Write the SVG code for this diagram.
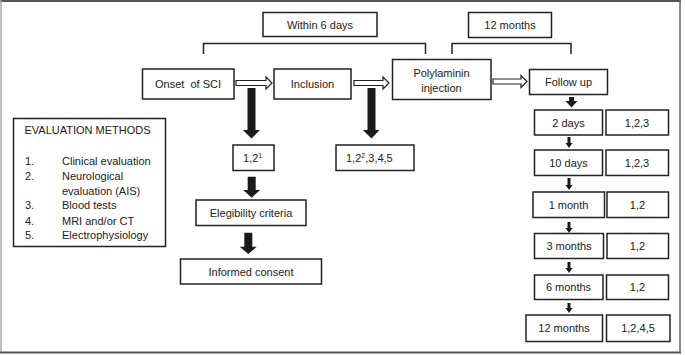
<svg xmlns="http://www.w3.org/2000/svg" width="685" height="355" viewBox="0 0 685 355">
<style>
.b{fill:#fff;stroke:#222;stroke-width:1.5}
.t{font-family:"Liberation Sans",Arial,sans-serif;font-size:11px;fill:#222;text-anchor:middle;dominant-baseline:central}
.l{font-family:"Liberation Sans",Arial,sans-serif;font-size:11px;fill:#222}
.br{fill:none;stroke:#222;stroke-width:1.5}
.h{fill:#fff;stroke:#222;stroke-width:1.2}
.a{fill:#1a1a1a}
</style>
<rect width="685" height="355" fill="#fff"/>
<g id="frame">
<line x1="0" y1="1" x2="681" y2="1" stroke="#555" stroke-width="2"/>
<line x1="1" y1="0" x2="1" y2="353" stroke="#aaa" stroke-width="1.5"/>
<line x1="680" y1="0" x2="680" y2="353" stroke="#666" stroke-width="1.5"/>
<line x1="0" y1="352.5" x2="681" y2="352.5" stroke="#555" stroke-width="2"/>
</g>
<g id="connectors">
<path class="br" d="M203.5,54 V43.5 H425.5 V54"/>
<path class="br" d="M452,54 V43.5 H571 V54"/>
<polygon class="h" points="236,80.5 266,80.5 266,77 272,83 266,89 266,85.5 236,85.5"/>
<polygon class="h" points="354,80.5 383,80.5 383,77 389,83 383,89 383,85.5 354,85.5"/>
<polygon class="h" points="493,79 521,79 521,75.5 527,81.5 521,87.5 521,84 493,84"/>
<polygon class="a" points="247.5,88 255.5,88 255.5,130 260,130 251.5,138.5 243,130 247.5,130"/>
<polygon class="a" points="367.5,88 375.5,88 375.5,130 379.5,130 371.5,138.5 363,130 367.5,130"/>
<polygon class="a" points="247.7,176.7 255.7,176.7 255.7,190 260.2,190 251.7,197.7 243.2,190 247.7,190"/>
<polygon class="a" points="244.3,232.7 252.3,232.7 252.3,246.7 256.8,246.7 248.3,254 239.8,246.7 244.3,246.7"/>
<polygon class="a" points="569,97 574,97 574,101 577.5,101 571.5,107.5 565.5,101 569,101"/>
<polygon class="a" points="567.5,137 570.5,137 570.5,143 572.5,143 569,148 565.5,143 567.5,143"/>
<polygon class="a" points="567.5,178 570.5,178 570.5,185 572.5,185 569,190 565.5,185 567.5,185"/>
<polygon class="a" points="567.5,222 570.5,222 570.5,228 572.5,228 569,233 565.5,228 567.5,228"/>
<polygon class="a" points="567.5,262 570.5,262 570.5,268 572.5,268 569,273 565.5,268 567.5,268"/>
<polygon class="a" points="567.5,303 570.5,303 570.5,308 572.5,308 569,313 565.5,308 567.5,308"/>
</g>
<g id="within6days"><rect class="b" x="263" y="12.5" width="114" height="24"/><text class="t" x="320" y="25">Within 6 days</text></g>
<g id="months12top"><rect class="b" x="468.5" y="12.5" width="83" height="25"/><text class="t" x="510" y="25">12 months</text></g>
<g id="onset"><rect class="b" x="142.5" y="69" width="91.5" height="30"/><text class="t" x="188" y="84" xml:space="preserve">Onset  of SCI</text></g>
<g id="inclusion"><rect class="b" x="274" y="69" width="77" height="30"/><text class="t" x="312.5" y="84">Inclusion</text></g>
<g id="polylaminin"><rect class="b" x="392.5" y="59.5" width="98.5" height="40"/><text class="t" x="441.5" y="72.5">Polylaminin</text><text class="t" x="441.5" y="88">injection</text></g>
<g id="followup"><rect class="b" x="529.5" y="69.5" width="78" height="25"/><text class="t" x="568.5" y="82">Follow up</text></g>
<g id="evalmethods">
<rect class="b" x="13.5" y="118.5" width="152" height="128"/>
<text class="l" x="24.5" y="134">EVALUATION METHODS</text>
<text class="l" x="25" y="165">1.</text><text class="l" x="62" y="165">Clinical evaluation</text>
<text class="l" x="25" y="180">2.</text><text class="l" x="62" y="180">Neurological</text>
<text class="l" x="62" y="195">evaluation (AIS)</text>
<text class="l" x="25" y="209">3.</text><text class="l" x="62" y="209">Blood tests</text>
<text class="l" x="25" y="224.5">4.</text><text class="l" x="62" y="224.5">MRI and/or CT</text>
<text class="l" x="25" y="239">5.</text><text class="l" x="62" y="239">Electrophysiology</text>
</g>
<g id="eval1"><rect class="b" x="233" y="145" width="41" height="25.5"/><text class="l" x="243" y="162">1,2<tspan font-size="7" dy="-4">1</tspan></text></g>
<g id="eval2"><rect class="b" x="336" y="145" width="78" height="25.5"/><text class="l" x="346" y="162">1,2<tspan font-size="7" dy="-4">2</tspan><tspan dy="4">,3,4,5</tspan></text></g>
<g id="eligibility"><rect class="b" x="196" y="200" width="110" height="25.5"/><text class="t" x="251" y="212.5">Elegibility criteria</text></g>
<g id="consent"><rect class="b" x="180.5" y="259" width="141" height="25"/><text class="t" x="251" y="271.5">Informed consent</text></g>
<g id="d2"><rect class="b" x="534.5" y="110" width="68" height="25"/><text class="t" x="568.5" y="122.5">2 days</text></g>
<g id="d2m"><rect class="b" x="606" y="110" width="62.5" height="25"/><text class="t" x="637" y="122.5">1,2,3</text></g>
<g id="d10"><rect class="b" x="534.5" y="150" width="68" height="25.5"/><text class="t" x="568.5" y="162.5">10 days</text></g>
<g id="d10m"><rect class="b" x="606" y="150" width="62.5" height="25.5"/><text class="t" x="637" y="162.5">1,2,3</text></g>
<g id="m1"><rect class="b" x="533" y="192" width="71.5" height="25.5"/><text class="t" x="568.5" y="204.5">1 month</text></g>
<g id="m1m"><rect class="b" x="607" y="192" width="61.5" height="25.5"/><text class="t" x="637.5" y="204.5">1,2</text></g>
<g id="m3"><rect class="b" x="534.5" y="233.5" width="69" height="25"/><text class="t" x="569" y="246">3 months</text></g>
<g id="m3m"><rect class="b" x="607" y="233.5" width="61.5" height="25"/><text class="t" x="637.5" y="246">1,2</text></g>
<g id="m6"><rect class="b" x="534.5" y="275" width="68.5" height="24.5"/><text class="t" x="568.5" y="287">6 months</text></g>
<g id="m6m"><rect class="b" x="606.5" y="275" width="62" height="24.5"/><text class="t" x="637.5" y="287">1,2</text></g>
<g id="m12"><rect class="b" x="526" y="315" width="76.5" height="26.5"/><text class="t" x="564" y="328">12 months</text></g>
<g id="m12m"><rect class="b" x="606.5" y="315" width="63.5" height="26.5"/><text class="t" x="638" y="328">1,2,4,5</text></g>
</svg>
